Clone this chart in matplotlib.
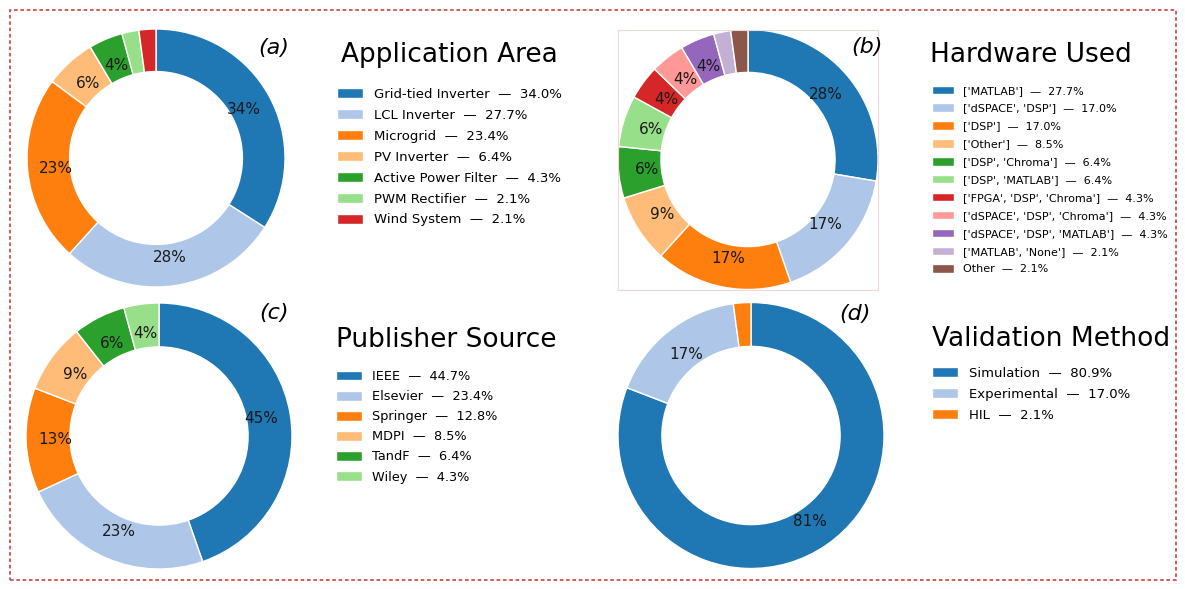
import matplotlib
matplotlib.use('Agg')
import matplotlib.pyplot as plt
from matplotlib.patches import Rectangle

# ---------------- data (paper counts, total 47) ----------------
app_labels = ['Grid-tied Inverter', 'LCL Inverter', 'Microgrid', 'PV Inverter',
              'Active Power Filter', 'PWM Rectifier', 'Wind System']
app_counts = [16, 13, 11, 3, 2, 1, 1]

hw_labels = ["['MATLAB']", "['dSPACE', 'DSP']", "['DSP']", "['Other']",
             "['DSP', 'Chroma']", "['DSP', 'MATLAB']", "['FPGA', 'DSP', 'Chroma']",
             "['dSPACE', 'DSP', 'Chroma']", "['dSPACE', 'DSP', 'MATLAB']",
             "['MATLAB', 'None']", "Other"]
hw_counts = [13, 8, 8, 4, 3, 3, 2, 2, 2, 1, 1]

pub_labels = ['IEEE', 'Elsevier', 'Springer', 'MDPI', 'TandF', 'Wiley']
pub_counts = [21, 11, 6, 4, 3, 2]

val_labels = ['Simulation', 'Experimental', 'HIL']
val_counts = [38, 8, 1]

titles = ['Application Area', 'Hardware Used', 'Publisher Source', 'Validation Method']
tags = ['(a)', '(b)', '(c)', '(d)']

# ---------------- figure ----------------
W, H = 1185, 589
plt.rcParams['font.family'] = ['DejaVu Sans']
fig = plt.figure(figsize=(W / 100, H / 100), dpi=100)


def fx(px):
    return px / W


def fy(py):
    return 1 - py / H


colors = plt.get_cmap('tab20').colors


def donut(cx, cy, r, counts, labels, title, tag, tagxy, titlexy, legxy,
          leg_fs, leg_sp, frame=False):
    ax = fig.add_axes([fx(cx - r), fy(cy + r), 2 * r / W, 2 * r / H])
    wedges, texts, autotexts = ax.pie(
        counts, colors=colors[:len(counts)], startangle=90, counterclock=False,
        autopct=lambda p: f'{p:.0f}%' if p >= 3 else '',
        pctdistance=0.78,
        wedgeprops=dict(width=0.33, edgecolor='white', linewidth=1),
        textprops=dict(fontsize=11, color='#1a1a1a'))
    ax.set_xlim(-1, 1)
    ax.set_ylim(-1, 1)
    if frame:
        ax.set_frame_on(True)
        for s in ax.spines.values():
            s.set_edgecolor('#f3d6d6')
            s.set_linewidth(0.8)
        ax.set_xticks([])
        ax.set_yticks([])
    fig.text(fx(tagxy[0]), fy(tagxy[1]), tag, fontsize=16, fontstyle='italic',
             ha='center', va='center')
    fig.text(fx(titlexy[0]), fy(titlexy[1]), title, fontsize=19,
             ha='left', va='baseline')
    total = sum(counts)
    leg_labels = [f'{l}  \u2014  {100 * c / total:.1f}%' for l, c in zip(labels, counts)]
    fig.legend(wedges, leg_labels, fontsize=leg_fs, labelspacing=leg_sp,
               frameon=False, loc='upper left', borderpad=0, borderaxespad=0,
               handleheight=0.8,
               bbox_to_anchor=(fx(legxy[0]), fy(legxy[1])),
               bbox_transform=fig.transFigure)
    return ax


donut(156, 158, 129, app_counts, app_labels, titles[0], tags[0], (274, 48),
      (341, 62), (337, 88), 9.5, 0.6)
donut(748, 159.5, 130, hw_counts, hw_labels, titles[1], tags[1], (867, 47),
      (930, 62), (932, 85.5), 8, 0.7, frame=True)
donut(159, 436, 133, pub_counts, pub_labels, titles[2], tags[2], (274, 313),
      (336, 347), (336, 370), 9.3, 0.55)
donut(751, 435.5, 133, val_counts, val_labels, titles[3], tags[3], (855, 314),
      (932, 346), (932, 367), 9.5, 0.6)

fig.patches.append(Rectangle((fx(10), fy(580)), (1176 - 10) / W, (580 - 10) / H,
                             transform=fig.transFigure, fill=False,
                             edgecolor='#d0504c', linestyle=(0, (2, 1.5)),
                             linewidth=1.3))

fig.savefig('out.png', dpi=100)
